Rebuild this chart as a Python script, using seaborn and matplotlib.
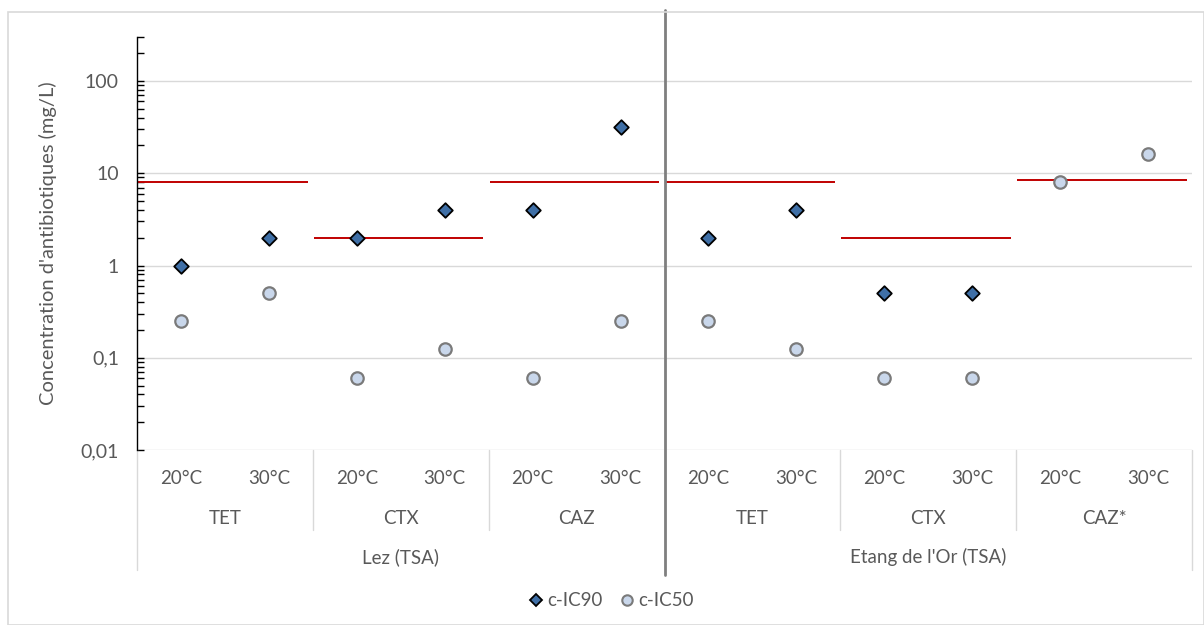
import numpy as np
import pandas as pd
import seaborn as sns
import matplotlib.pyplot as plt
from matplotlib.patches import Rectangle
from matplotlib.lines import Line2D
import matplotlib.ticker as mticker

# data
sites = ["Lez (TSA)", "Etang de l'Or (TSA)"]
antibiotics = ["TET", "CTX", "CAZ", "TET", "CTX", "CAZ*"]
temps = ["20°C", "30°C"] * 6
ic90 = [1, 2, 2, 4, 4, 32, 2, 4, 0.5, 0.5, np.nan, np.nan]
ic50 = [0.25, 0.5, 0.06, 0.125, 0.06, 0.25, 0.25, 0.125, 0.06, 0.06, 8, 16]
breakpoints = [8, 2, 8, 8, 2, 8.5]

cats = [f"{i}" for i in range(len(temps))]
df = pd.DataFrame({"cat": cats, "temp": temps, "c-IC90": ic90, "c-IC50": ic50})
df["pos"] = pd.Categorical(df["cat"], categories=cats).codes
long = df.melt(id_vars=["cat", "temp", "pos"], value_vars=["c-IC90", "c-IC50"],
               var_name="serie", value_name="conc").dropna()

sns.set_theme(style="white")
plt.rcParams['font.family'] = ['Lato', 'DejaVu Sans']
txt = "#595959"

fig = plt.figure(figsize=(12.04, 6.25), dpi=100)
ax = fig.add_axes([137/1204, 1-450/625, 1055/1204, 413/625])

# frame of the chart
fig.patches.append(Rectangle((8/1204, 0), 1-8/1204, 1-12/625, transform=fig.transFigure,
                             fill=False, edgecolor="#D9D9D9", lw=1.2))

ax.set_yscale("log")
ax.set_ylim(0.01, 300)
ax.set_xlim(-0.5, len(cats) - 0.5)

for v in [0.01, 0.1, 1, 10, 100]:
    ax.axhline(v, color="#D9D9D9", lw=1, zorder=0)

# breakpoints (red lines)
for g, bp in enumerate(breakpoints):
    ax.hlines(bp, 2*g - 0.5 + 0.01, 2*g + 1.5 - 0.06, color="#C00000", lw=1.4, zorder=2)

sns.scatterplot(data=long[long.serie == "c-IC90"], x="pos", y="conc", marker="D",
                s=55, color="#3F6FA6", edgecolor="black", linewidth=1.3, ax=ax, zorder=3)
sns.scatterplot(data=long[long.serie == "c-IC50"], x="pos", y="conc", marker="o",
                s=80, color="#C9D7EB", edgecolor="#7A7A7A", linewidth=1.6, ax=ax, zorder=3)

for s in ["top", "right", "bottom"]:
    ax.spines[s].set_visible(False)
ax.spines["left"].set_color("black")
ax.spines["left"].set_linewidth(1)

ax.yaxis.set_major_locator(mticker.LogLocator(base=10, numticks=10))
ax.yaxis.set_minor_locator(mticker.LogLocator(base=10, subs=np.arange(2, 10), numticks=10))
ax.yaxis.set_major_formatter(mticker.FuncFormatter(lambda v, p: f"{v:g}".replace(".", ",")))
ax.yaxis.set_minor_formatter(mticker.NullFormatter())
ax.tick_params(axis="y", which="both", direction="in", length=5, width=1, color="black",
               left=True, labelsize=14, labelcolor=txt, pad=13)
ax.set_xticks([])
ax.set_xlabel("")
ax.set_ylabel("Concentration d'antibiotiques (mg/L)", fontsize=14.5, color=txt)
ax.yaxis.set_label_coords(-0.076, 0.5)

# multi-level category axis
tr = ax.get_xaxis_transform()
for i, t in enumerate(temps):
    ax.text(i, -0.068, t, transform=tr, ha="center", va="center", fontsize=13.5, color=txt)
for g, ab in enumerate(antibiotics):
    ax.text(2*g + 0.5, -0.165, ab, transform=tr, ha="center", va="center", fontsize=13.5, color=txt)
for k, site in enumerate(sites):
    ax.text(6*k + 2.5, -0.259, site, transform=tr, ha="center", va="center", fontsize=13.5, color=txt)

for g in range(len(antibiotics) + 1):
    xb = 2*g - 0.5
    if g % 3 == 0:
        if g in (0, len(antibiotics)):
            ax.plot([xb, xb], [0, -0.29], transform=tr, color="#D9D9D9", lw=1, clip_on=False)
    else:
        ax.plot([xb, xb], [0, -0.194], transform=tr, color="#D9D9D9", lw=1, clip_on=False)

# separator between sites
ax.plot([5.5, 5.5], [1.065, -0.303], transform=tr, color="#7F7F7F", lw=2, clip_on=False, zorder=4)

handles = [Line2D([], [], ls="", marker="D", ms=6.5, mfc="#3F6FA6", mec="black", mew=1.3),
           Line2D([], [], ls="", marker="o", ms=7.5, mfc="#C9D7EB", mec="#7A7A7A", mew=1.5)]
ax.legend(handles, ["c-IC90", "c-IC50"], loc="center", bbox_to_anchor=(610/1204, 1-601/625),
          bbox_transform=fig.transFigure, ncol=2, frameon=False, fontsize=13.5, labelcolor=txt,
          handletextpad=0.1, columnspacing=0.8, handlelength=1)

fig.savefig("out.png", dpi=100)
